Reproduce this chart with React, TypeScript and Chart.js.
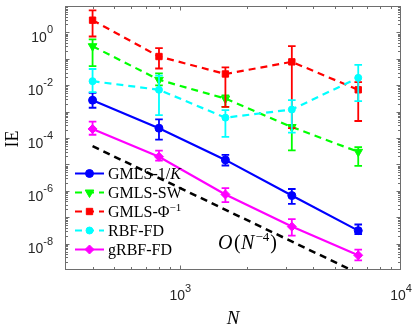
import React, { useEffect, useRef } from 'react';
import { Chart, registerables } from 'chart.js';
Chart.register(...registerables);

// ---- data ----
const N = [400, 800, 1600, 3200, 6400];
const labels = ['GMLS-1/K', 'GMLS-SW', 'GMLS-Φ^-1', 'RBF-FD', 'gRBF-FD'];

const gmlsK = [2.7e-3, 2.35e-4, 1.48e-5, 6.6e-7, 3.1e-8];
const gmlsKLow = [1.4e-3, 8.7e-5, 9.1e-6, 3.2e-7, 2.3e-8];
const gmlsKHigh = [5.1e-3, 5.1e-4, 2.3e-5, 1.17e-6, 5.3e-8];

const gmlsSW = [0.3, 0.016, 3.1e-3, 2.6e-4, 3.0e-5];
const gmlsSWLow = [0.053, 9.8e-3, 1.5e-3, 3.4e-5, 8.8e-6];
const gmlsSWHigh = [0.54, 0.028, 4.1e-3, 3.1e-4, 4.5e-5];

const gmlsPhi = [2.9, 0.122, 0.0266, 0.0766, 6.7e-3];
const gmlsPhiLow = [0.7, 0.043, 1.5e-3, 2.35e-4, 4.4e-4];
const gmlsPhiHigh = [6.8, 0.255, 0.047, 0.3, 0.013];

const rbf = [0.0142, 6.7e-3, 5.9e-4, 1.2e-3, 0.019];
const rbfLow = [5.5e-3, 7.4e-4, 1.1e-4, 1.6e-4, 2.5e-3];
const rbfHigh = [0.041, 0.023, 1.14e-3, 2.7e-3, 0.059];

const grbf = [2.2e-4, 1.95e-5, 7.3e-7, 4.4e-8, 3.6e-9];
const grbfLow = [1.33e-4, 1.4e-5, 3.7e-7, 2.0e-8, 2.3e-9];
const grbfHigh = [4.2e-4, 3.3e-5, 1.26e-6, 8.5e-8, 5.9e-9];

const refN = [400, 6400];
const refIE = [4.9e-5, 7.5e-10];

const xTickExps = [3, 4];
const yTickExps = [-8, -6, -4, -2, 0];

const AXIS = '#6e6e6e';
const TXT = '#262626';

type Run = { t: string; font: string; dy?: number; gap?: number };
function drawRuns(ctx: CanvasRenderingContext2D, x: number, y: number, runs: Run[]) {
  let cx = x;
  for (const r of runs) {
    ctx.font = r.font;
    ctx.fillText(r.t, cx, y + (r.dy || 0));
    cx += ctx.measureText(r.t).width + (r.gap || 0);
  }
  return cx;
}
function runsWidth(ctx: CanvasRenderingContext2D, runs: Run[]) {
  let w = 0;
  for (const r of runs) { ctx.font = r.font; w += ctx.measureText(r.t).width + (r.gap || 0); }
  return w;
}

function drawMarker(ctx: CanvasRenderingContext2D, style: string, x: number, y: number, r: number, color: string) {
  ctx.save();
  ctx.fillStyle = color; ctx.strokeStyle = color; ctx.lineWidth = 1; ctx.setLineDash([]);
  ctx.beginPath();
  if (style === 'circle') ctx.arc(x, y, r, 0, Math.PI * 2);
  else if (style === 'rect') { const s = r * Math.SQRT1_2; ctx.rect(x - s, y - s, 2 * s, 2 * s); }
  else if (style === 'rectRot') { ctx.moveTo(x, y - r); ctx.lineTo(x + r, y); ctx.lineTo(x, y + r); ctx.lineTo(x - r, y); ctx.closePath(); }
  else if (style === 'triDown') {
    const h = r * 1.5;
    ctx.moveTo(x - r * 0.866, y - h / 3); ctx.lineTo(x + r * 0.866, y - h / 3); ctx.lineTo(x, y + 2 * h / 3); ctx.closePath();
  }
  ctx.fill(); ctx.stroke();
  ctx.restore();
}

const errPlugin = {
  id: 'errbars',
  beforeDatasetDraw(chart: any, args: any) {
    const ds = chart.data.datasets[args.index];
    if (!ds.errLow) return;
    const { ctx, chartArea: a, scales } = chart;
    ctx.save();
    ctx.beginPath();
    ctx.rect(a.left, a.top, a.right - a.left, a.bottom - a.top);
    ctx.clip();
    ctx.strokeStyle = ds.borderColor;
    ctx.lineWidth = 1.8;
    ctx.setLineDash([]);
    ds.data.forEach((p: any, i: number) => {
      const x = scales.x.getPixelForValue(p.x);
      const y1 = scales.y.getPixelForValue(ds.errLow[i]);
      const y2 = scales.y.getPixelForValue(ds.errHigh[i]);
      ctx.beginPath();
      ctx.moveTo(x, y1); ctx.lineTo(x, y2);
      ctx.moveTo(x - 3.8, y1); ctx.lineTo(x + 3.8, y1);
      ctx.moveTo(x - 3.8, y2); ctx.lineTo(x + 3.8, y2);
      ctx.stroke();
    });
    ctx.restore();
  },
};

const legendDefs = [
  { color: '#0000ff', dash: [] as number[], marker: 'circle', r: 4 },
  { color: '#00ff00', dash: [7, 5], marker: 'triDown', r: 5 },
  { color: '#ff0000', dash: [7, 5], marker: 'rect', r: 4.5 },
  { color: '#00ffff', dash: [7, 5], marker: 'circle', r: 3.5 },
  { color: '#ff00ff', dash: [] as number[], marker: 'rectRot', r: 4.5 },
];

const framePlugin = {
  id: 'frame',
  afterDraw(chart: any) {
    const { ctx, chartArea: a, scales } = chart;
    const xs = scales.x, ys = scales.y;
    ctx.save();
    const L = Math.round(a.left) + 0.5, R = Math.round(a.right) - 0.5;
    const T = Math.round(a.top) + 0.5, B = Math.round(a.bottom) - 0.5;
    ctx.strokeStyle = AXIS; ctx.lineWidth = 1; ctx.setLineDash([]);
    ctx.strokeRect(L, T, R - L, B - T);
    ctx.beginPath();
    for (let e = 2; e <= 3; e++) {
      for (let m = 1; m <= 9; m++) {
        const v = m * Math.pow(10, e);
        if (v <= xs.min || v >= xs.max) continue;
        const px = Math.round(xs.getPixelForValue(v)) + 0.5;
        const len = m === 1 ? 4 : 2.5;
        ctx.moveTo(px, B); ctx.lineTo(px, B - len);
        ctx.moveTo(px, T); ctx.lineTo(px, T + len);
      }
    }
    for (let e = -9; e <= 0; e++) {
      for (let m = 1; m <= 9; m++) {
        const v = m * Math.pow(10, e);
        if (v <= ys.min * 1.0001 || v >= ys.max * 0.9999) continue;
        const py = Math.round(ys.getPixelForValue(v)) + 0.5;
        const len = m === 1 ? 4 : 2.5;
        ctx.moveTo(L, py); ctx.lineTo(L + len, py);
        ctx.moveTo(R, py); ctx.lineTo(R - len, py);
      }
    }
    ctx.stroke();

    // tick labels
    ctx.fillStyle = TXT;
    ctx.textAlign = 'left';
    ctx.textBaseline = 'alphabetic';
    const big = "14px 'Liberation Sans', Arial, sans-serif";
    const small = "11px 'Liberation Sans', Arial, sans-serif";
    for (const e of yTickExps) {
      const py = ys.getPixelForValue(Math.pow(10, e));
      const runs: Run[] = [{ t: '10', font: big }, { t: String(e), font: small, dy: -8.7 }];
      const w = runsWidth(ctx, runs);
      drawRuns(ctx, 53 - w, py + 9.7, runs);
    }
    for (const e of xTickExps) {
      const px = xs.getPixelForValue(Math.pow(10, e));
      const runs: Run[] = [{ t: '10', font: big }, { t: String(e), font: small, dy: -8 }];
      const w = runsWidth(ctx, runs);
      drawRuns(ctx, px - w / 2, 300, runs);
    }

    // axis titles
    ctx.fillStyle = '#000';
    ctx.font = "italic 19px 'Liberation Serif', serif";
    ctx.textAlign = 'center';
    ctx.fillText('N', 233, 324);
    ctx.save();
    ctx.translate(17.5, 139);
    ctx.rotate(-Math.PI / 2);
    ctx.font = "18px 'Liberation Serif', serif";
    ctx.fillText('IE', 0, 0);
    ctx.restore();

    // annotation O(N^-4)
    ctx.textAlign = 'left';
    const it = "italic 20px 'Liberation Serif', serif";
    const rm = "20px 'Liberation Serif', serif";
    const sup = "13px 'Liberation Serif', serif";
    drawRuns(ctx, 218, 249, [
      { t: 'O', font: it, gap: 1.5 }, { t: '(', font: rm, gap: 0.5 }, { t: 'N', font: it, gap: 1 },
      { t: '−4', font: sup, dy: -8, gap: 1 }, { t: ')', font: rm },
    ]);

    // legend
    const lf = "16px 'Liberation Serif', serif";
    const lfi = "italic 16px 'Liberation Serif', serif";
    const lfs = "11px 'Liberation Serif', serif";
    legendDefs.forEach((d, i) => {
      const cy = 173.5 + i * 19;
      ctx.save();
      ctx.strokeStyle = d.color; ctx.lineWidth = 2; ctx.setLineDash(d.dash);
      ctx.beginPath(); ctx.moveTo(75, cy); ctx.lineTo(104, cy); ctx.stroke();
      ctx.restore();
      drawMarker(ctx, d.marker, 89.5, cy, d.r, d.color);
      ctx.fillStyle = '#000';
      let runs: Run[];
      if (i === 0) runs = [{ t: 'GMLS-1/', font: lf }, { t: 'K', font: lfi }];
      else if (i === 2) runs = [{ t: 'GMLS-Φ', font: lf }, { t: '−1', font: lfs, dy: -6 }];
      else runs = [{ t: labels[i], font: lf }];
      drawRuns(ctx, 108, cy + 5, runs);
    });
    ctx.restore();
  },
};

function series(label: string, ys: number[], color: string, extra: any, lo?: number[], hi?: number[], order = 0) {
  return {
    label,
    data: N.map((x, i) => ({ x, y: ys[i] })),
    borderColor: color,
    backgroundColor: color,
    pointBackgroundColor: color,
    pointBorderColor: color,
    pointBorderWidth: 1,
    borderWidth: 2.2,
    errLow: lo,
    errHigh: hi,
    order,
    ...extra,
  };
}

export default function App() {
  const ref = useRef<HTMLCanvasElement>(null);
  useEffect(() => {
    const c = ref.current!;
    const datasets: any[] = [
      series(labels[0], gmlsK, '#0000ff', { pointStyle: 'circle', pointRadius: 4 }, gmlsKLow, gmlsKHigh, 6),
      series(labels[1], gmlsSW, '#00ff00', { pointStyle: 'triangle', rotation: 180, pointRadius: 5, borderDash: [7, 5] }, gmlsSWLow, gmlsSWHigh, 5),
      series(labels[2], gmlsPhi, '#ff0000', { pointStyle: 'rect', pointRadius: 4.5, borderDash: [7, 5] }, gmlsPhiLow, gmlsPhiHigh, 4),
      series(labels[3], rbf, '#00ffff', { pointStyle: 'circle', pointRadius: 3.5, borderDash: [7, 5] }, rbfLow, rbfHigh, 3),
      series(labels[4], grbf, '#ff00ff', { pointStyle: 'rectRot', pointRadius: 4.5 }, grbfLow, grbfHigh, 2),
      {
        label: 'O(N^-4)',
        data: refN.map((x, i) => ({ x, y: refIE[i] })),
        borderColor: '#000',
        borderWidth: 2.5,
        borderDash: [7, 5],
        pointRadius: 0,
        order: 1,
        clip: 0,
      },
    ];
    const chart = new Chart(c, {
      type: 'line',
      data: { datasets },
      options: {
        animation: false,
        responsive: false,
        maintainAspectRatio: false,
        devicePixelRatio: 1,
        layout: { padding: { left: 65, right: 14, top: 0, bottom: 62 } },
        scales: {
          x: { type: 'logarithmic', min: 300, max: 10000, display: false },
          y: { type: 'logarithmic', min: 1e-9, max: 10, display: false },
        },
        plugins: { legend: { display: false }, tooltip: { enabled: false } },
        elements: { line: { tension: 0 } },
      },
      plugins: [errPlugin, framePlugin],
    } as any);
    return () => chart.destroy();
  }, []);
  return (
    <div style={{ position: 'fixed', left: 0, top: 0, width: 415, height: 332, background: '#fff' }}>
      <canvas ref={ref} width={415} height={332} style={{ display: 'block', width: 415, height: 332 }} />
    </div>
  );
}
